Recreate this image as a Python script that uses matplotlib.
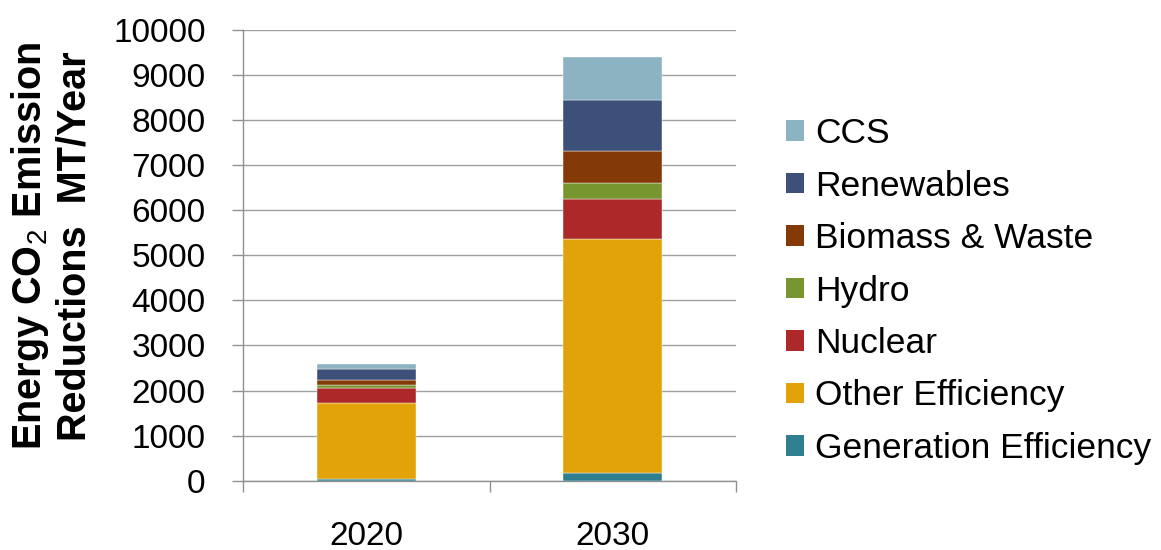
import matplotlib
matplotlib.use("Agg")
import matplotlib.pyplot as plt
from matplotlib.patches import Patch
import numpy as np

plt.rcParams['font.family'] = ['Liberation Sans', 'DejaVu Sans']
plt.rcParams['mathtext.fontset'] = 'custom'
plt.rcParams['mathtext.rm'] = 'Liberation Sans'
plt.rcParams['mathtext.bf'] = 'Liberation Sans:bold'

# data (MT/Year), bottom to top of the stack
years = ['2020', '2030']
series = ['Generation Efficiency', 'Other Efficiency', 'Nuclear', 'Hydro',
          'Biomass & Waste', 'Renewables', 'CCS']
gen_eff = [45, 177]
other_eff = [1672, 5190]
nuclear = [333, 874]
hydro = [73, 362]
biomass = [104, 710]
renewables = [251, 1131]
ccs = [111, 947]
colors = ['#2E7F8F', '#E1A307', '#AD2829', '#78962F', '#843A06', '#3D5079', '#8CB3C1']

values = [gen_eff, other_eff, nuclear, hydro, biomass, renewables, ccs]

fig = plt.figure(figsize=(11.61, 5.5), dpi=100)
ax = fig.add_axes([243/1161, 1 - 480.7/550, (736 - 243)/1161, (480.7 - 29.9)/550])

x = np.arange(len(years))
bottom = np.zeros(len(years))
for name, vals, c in zip(series, values, colors):
    ax.bar(x, vals, width=0.4, bottom=bottom, color=c, edgecolor='white',
           linewidth=0.3, label=name, zorder=3)
    bottom += np.array(vals)

ax.set_xlim(-0.5, 1.5)
ax.set_ylim(0, 10000)
ax.set_yticks(np.arange(0, 10001, 1000))
ax.yaxis.grid(True, color='#a0a0a0', linewidth=1.0, zorder=0)

ax.set_xticks(x)
ax.set_xticklabels(years)
ax.set_xticks([-0.5, 0.5, 1.5], minor=True)
ax.tick_params(axis='x', which='major', length=0, pad=29, labelsize=24)
ax.tick_params(axis='x', which='minor', length=8, width=1, color='#909090', direction='out')
ax.tick_params(axis='y', length=8, width=1, color='#909090', direction='out', pad=19, labelsize=24)

for s in ['top', 'right']:
    ax.spines[s].set_visible(False)
for s in ['left', 'bottom']:
    ax.spines[s].set_color('#909090')
    ax.spines[s].set_linewidth(1)

fig.text(51/1161, 1 - 246/550, 'Energy CO$_2$ Emission\nReductions  MT/Year',
         rotation=90, ha='center', va='center', fontsize=28.5, fontweight='bold',
         multialignment='center', linespacing=1.15)

handles = [Patch(facecolor=c, edgecolor='none') for c in colors][::-1]
fig.legend(handles, series[::-1], loc='center left',
           bbox_to_anchor=(786/1161, 1 - 291/550), frameon=False,
           fontsize=25.5, handlelength=0.52, handleheight=0.52,
           handletextpad=0.3, labelspacing=0.55, borderpad=0, borderaxespad=0)

fig.savefig('out.png', dpi=100)
